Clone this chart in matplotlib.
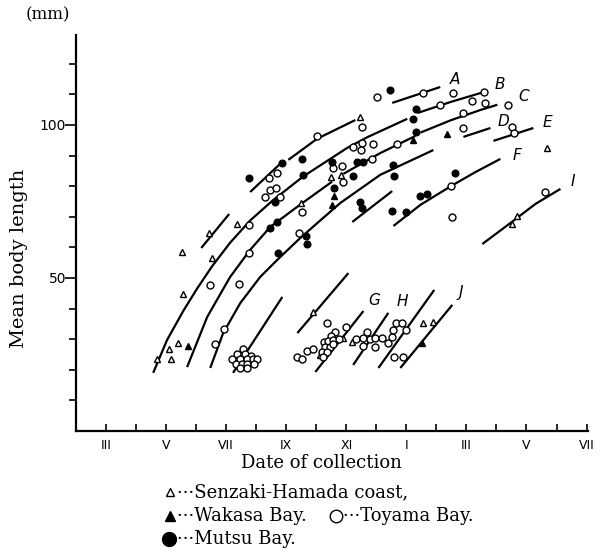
import matplotlib
matplotlib.use("Agg")
import matplotlib.pyplot as plt
from matplotlib.lines import Line2D

# -----------------------------------------------------------------------------
# Data read off the figure : x in months (2 = Feb, 13 = Jan of next year), y in mm
# -----------------------------------------------------------------------------

# growth curves, each one a list of drawn segments (months, mm)
curve_A = [([6.17, 7.10], [59.8, 70.9]),
           ([7.80, 8.83], [78.1, 87.6]),
           ([9.07, 10.03, 11.30], [88.6, 95.5, 101.6]),
           ([12.53, 14.13], [107.2, 112.4])]
curve_B = [([4.57, 5.03, 5.57, 6.03, 6.53, 7.13, 7.80, 8.57, 9.57, 11.03, 11.70, 13.03],
            [19.0, 29.7, 39.2, 46.5, 53.8, 61.5, 68.8, 75.5, 83.2, 92.5, 96.0, 102.0]),
           ([13.37, 14.47, 15.60], [103.9, 107.5, 110.8])]
curve_C = [([5.70, 6.37, 7.13, 7.80, 8.47, 9.47, 10.53], [20.9, 37.3, 50.3, 59.2, 66.7, 74.0, 81.5]),
           ([10.90, 12.13, 13.30], [84.0, 90.8, 96.4]),
           ([13.47, 14.47, 15.47, 16.03], [97.5, 101.5, 104.9, 106.6])]
curve_D = [([6.47, 6.90, 7.47, 8.13, 8.70, 9.47, 10.80, 12.13, 13.90],
            [20.6, 32.0, 41.8, 50.3, 55.9, 63.1, 74.5, 83.7, 91.8]),
           ([14.90, 15.80], [96.1, 99.0])]
curve_E = [([15.90, 17.23], [94.8, 99.0])]
curve_F = [([12.57, 13.47, 14.50, 15.30, 16.13], [67.0, 73.9, 80.1, 84.6, 88.9])]
curve_I = [([15.53, 16.47, 17.30, 18.13], [61.1, 68.0, 74.2, 79.1])]
curve_G = [([9.97, 11.57], [19.3, 39.2])]
curve_H = [([11.23, 12.40], [21.6, 38.6]),
           ([12.07, 13.93], [20.6, 46.1])]
curve_J = [([12.80, 14.53], [20.6, 41.2])]
# unlabelled short pieces
curve_x1 = [([11.20, 12.53], [68.3, 78.4])]
curve_x2 = [([7.23, 8.87], [19.0, 43.8])]
curve_x3 = [([9.37, 11.07], [32.0, 51.6])]

curve_names = ["A", "B", "C", "D", "E", "F", "I", "G", "H", "J"]
name_month = [14.63, 16.10, 16.90, 16.23, 17.70, 16.70, 18.53, 11.93, 12.87, 14.80]
name_mm = [114.7, 113.1, 109.2, 101.0, 100.7, 89.9, 81.4, 42.8, 42.2, 45.1]

# Senzaki-Hamada coast (open triangles)
senzaki_month = [4.70, 5.17, 5.10, 5.40, 5.57, 5.53, 6.53, 6.43, 7.37, 9.50, 10.50, 10.83,
                 11.47, 9.90, 10.13, 10.90, 11.20, 13.57, 13.90, 17.67, 16.53, 16.70]
senzaki_mm = [23.5, 23.5, 26.8, 28.8, 44.8, 58.5, 56.5, 64.7, 67.6, 74.5, 83.0, 83.7,
              102.6, 38.9, 24.8, 30.4, 29.1, 35.3, 35.6, 92.5, 67.6, 70.3]

# Wakasa Bay (filled triangles)
wakasa_month = [5.73, 10.60, 10.53, 13.23, 14.37, 13.53]
wakasa_mm = [27.8, 76.8, 73.9, 95.1, 97.1, 28.8]

# Toyama Bay (open circles)
toyama_month = [6.47, 7.43, 7.77, 6.93, 6.63, 7.77,
                7.57, 7.37, 7.63, 7.83, 7.20, 7.47, 7.70, 7.90, 8.03, 7.33, 7.53, 7.70, 7.93, 7.47, 7.70,
                8.43, 8.70, 8.30, 8.47, 8.67, 8.80, 10.03, 9.53, 10.87, 10.90, 10.57,
                11.53, 11.23, 11.53, 11.90, 11.50, 11.87, 12.03, 12.70, 13.57, 14.13, 14.57,
                15.20, 15.60, 15.63, 14.87, 14.90, 16.40, 16.53, 16.57, 14.50, 14.53, 17.63, 9.43,
                10.37, 11.00, 10.63, 10.50, 10.27, 10.40, 10.57, 10.77, 10.30, 10.47, 10.57, 10.20,
                10.37, 10.23, 9.70, 9.90, 9.37, 9.53,
                11.33, 11.57, 11.70, 11.80, 11.97, 12.20, 11.57, 11.97, 12.40, 12.53, 12.57, 12.67,
                12.87, 13.00, 12.60, 12.90]
toyama_mm = [47.7, 48.0, 58.2, 33.3, 28.4, 67.3,
             26.8, 25.2, 25.2, 24.5, 23.5, 23.5, 23.5, 23.5, 23.5, 21.9, 21.9, 21.9, 21.9, 20.6, 20.6,
             82.7, 84.3, 76.5, 78.8, 79.4, 76.5, 96.4, 71.6, 86.6, 81.4, 85.9,
             99.3, 92.8, 94.1, 93.8, 91.8, 88.9, 109.2, 93.8, 110.5, 106.5, 110.5,
             107.8, 110.8, 107.2, 99.0, 103.9, 106.5, 99.3, 97.4, 80.1, 69.9, 78.1, 64.7,
             35.3, 34.0, 32.4, 31.0, 29.1, 29.4, 29.7, 30.1, 27.5, 27.5, 28.4, 25.8,
             25.8, 24.2, 26.1, 26.8, 24.2, 23.5,
             30.1, 30.4, 32.4, 30.1, 30.4, 30.4, 27.8, 27.5, 28.8, 30.7, 33.0, 35.3,
             35.3, 33.0, 24.2, 24.2]

# Mutsu Bay (filled circles)
mutsu_month = [7.77, 8.87, 9.53, 8.63, 9.57, 10.53, 10.60, 8.47, 8.70, 8.73, 9.67, 9.70,
               12.47, 13.33, 13.23, 13.33, 11.37, 11.57, 11.23, 12.57, 12.60, 14.63,
               11.47, 11.53, 13.47, 13.70, 12.53, 13.00]
mutsu_mm = [82.7, 87.6, 88.9, 74.8, 83.7, 87.9, 79.4, 66.3, 68.3, 58.2, 63.7, 61.1,
            111.4, 105.2, 102.0, 97.7, 87.9, 87.9, 83.3, 86.9, 83.3, 84.3,
            74.8, 72.9, 76.8, 77.5, 71.9, 71.6]

month_ticks = list(range(3, 20))
month_labels = ["III", "", "V", "", "VII", "", "IX", "", "XI", "", "I", "", "III", "", "V", "", "VII"]
mm_ticks = list(range(10, 130, 10))
mm_labels = ["50" if t == 50 else "100" if t == 100 else "" for t in mm_ticks]

legend_text = ["\u00b7\u00b7\u00b7Senzaki-Hamada coast,", "\u00b7\u00b7\u00b7Wakasa Bay.",
               "\u00b7\u00b7\u00b7Toyama Bay.", "\u00b7\u00b7\u00b7Mutsu Bay."]


def main():
    fig = plt.figure(figsize=(6.1, 5.55), dpi=100)
    ax = fig.add_axes([0.1246, 0.2234, 0.8394, 0.7136])

    # curves
    all_curves = [curve_A, curve_B, curve_C, curve_D, curve_E, curve_F, curve_I,
                  curve_G, curve_H, curve_J, curve_x1, curve_x2, curve_x3]
    for curve in all_curves:
        for xs, ys in curve:
            ax.plot(xs, ys, color="black", lw=1.6, solid_capstyle="butt", zorder=2)

    # data points
    ax.plot(senzaki_month, senzaki_mm, ls="none", marker="^", ms=5, mfc="white",
            mec="black", mew=1.0, zorder=3)
    ax.plot(wakasa_month, wakasa_mm, ls="none", marker="^", ms=5, mfc="black",
            mec="black", zorder=3)
    ax.plot(toyama_month, toyama_mm, ls="none", marker="o", ms=5, mfc="white",
            mec="black", mew=1.0, zorder=3)
    ax.plot(mutsu_month, mutsu_mm, ls="none", marker="o", ms=4.8, mfc="black",
            mec="black", zorder=4)

    for name, m, v in zip(curve_names, name_month, name_mm):
        ax.text(m, v, name, ha="center", va="center", fontsize=11, style="italic",
                family="DejaVu Sans", fontweight="light")

    # axes
    ax.set_xlim(2, 19.05)
    ax.set_ylim(0, 129.4)
    for side in ["top", "right"]:
        ax.spines[side].set_visible(False)
    for side in ["left", "bottom"]:
        ax.spines[side].set_linewidth(1.6)

    ax.set_xticks(month_ticks)
    ax.set_xticklabels(month_labels, fontsize=9, family="DejaVu Sans")
    ax.tick_params(axis="x", direction="in", length=5, width=1.2, pad=6)
    ax.set_yticks(mm_ticks)
    ax.set_yticklabels(mm_labels, fontsize=10, family="DejaVu Sans")
    ax.tick_params(axis="y", direction="out", length=5, width=1.2, pad=2)
    for t in ax.yaxis.get_major_ticks():
        if t.get_loc() in (50, 100):
            t.tick1line.set_markersize(8)

    ax.set_xlabel("Date of collection", fontsize=13, family="DejaVu Serif")
    ax.xaxis.set_label_coords(0.479, -0.058)
    ax.set_ylabel("Mean body length", fontsize=14, family="DejaVu Serif")
    ax.yaxis.set_label_coords(-0.094, 0.437)
    fig.text(48 / 610, 1 - 15 / 555, "(mm)", fontsize=12, family="DejaVu Serif",
             ha="center", va="center")

    # legend written under the axis
    fig.add_artist(Line2D([170 / 610], [1 - 492 / 555], marker="^", ms=6, mfc="white",
                          mec="black", mew=1.0, transform=fig.transFigure))
    fig.add_artist(Line2D([170 / 610], [1 - 516 / 555], marker="^", ms=7, mfc="black",
                          mec="black", transform=fig.transFigure))
    fig.add_artist(Line2D([336 / 610], [1 - 516 / 555], marker="o", ms=9, mfc="white",
                          mec="black", mew=1.0, transform=fig.transFigure))
    fig.add_artist(Line2D([169 / 610], [1 - 539 / 555], marker="o", ms=10, mfc="black",
                          mec="black", transform=fig.transFigure))
    legend_pos = [(177, 492), (177, 516), (343, 516), (177, 539)]
    for txt, (px, py) in zip(legend_text, legend_pos):
        fig.text(px / 610, 1 - py / 555, txt, fontsize=13, family="DejaVu Serif",
                 ha="left", va="center")

    fig.savefig("out.png", dpi=100, facecolor="white")


main()
